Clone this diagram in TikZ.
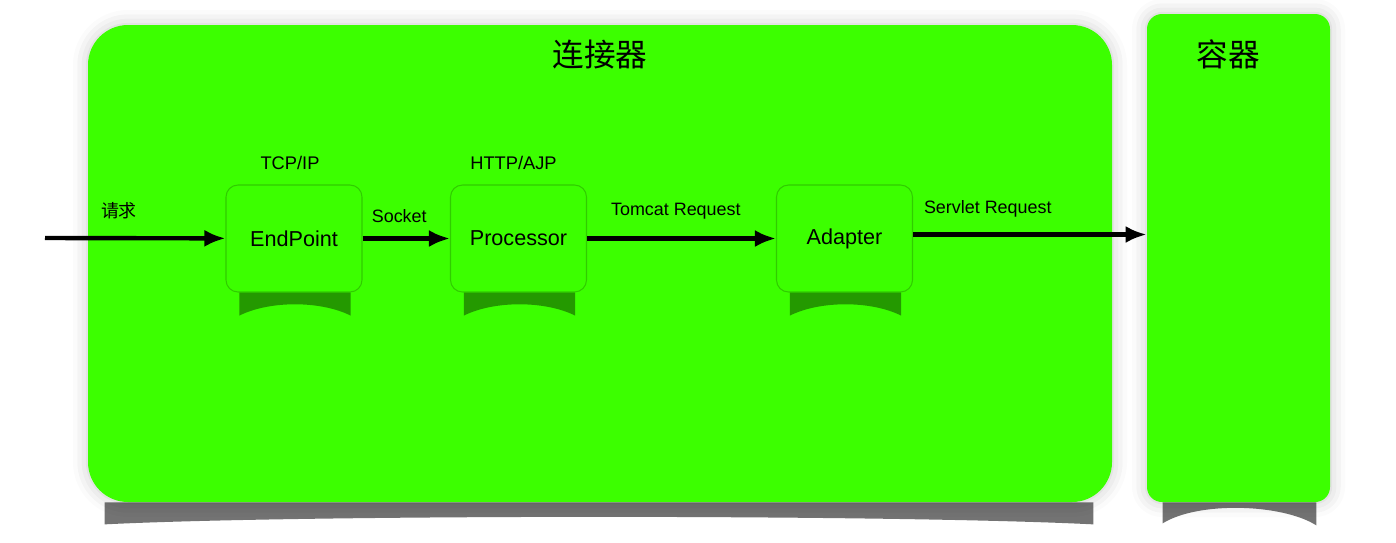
\documentclass[tikz,border=0pt]{standalone}
\usepackage{fontspec}
\setmainfont{Liberation Sans}
\newfontfamily\cjk{Noto Sans CJK SC}
\usetikzlibrary{positioning,arrows.meta,shadows.blur}
\definecolor{tomgreen}{HTML}{3CFF00}
\begin{document}
\begin{tikzpicture}
    [
        halo/.style={blur shadow={shadow xshift=0pt, shadow yshift=0pt, shadow blur radius=0.3cm, shadow opacity=22}},
        part/.style={fill=tomgreen, halo, inner sep=0pt},
        module/.style={fill=tomgreen, inner sep=0pt, draw=black!20!tomgreen, line width=0.6pt,
            rounded corners=0.24cm, minimum width=2.72cm, minimum height=2.14cm, font=\fontsize{12.3}{14}\selectfont},
        title/.style={font=\cjk\fontsize{18}{20}\selectfont, inner sep=0pt},
        proto/.style={font=\fontsize{10.4}{12}\selectfont, inner sep=0pt},
        edgelabel/.style={font=\fontsize{10.2}{12}\selectfont, inner sep=0pt},
        edge/.style={-{Latex[length=4.2mm,width=3.4mm]}, line width=2.5pt},
        curl/.style={fill=black, opacity=0.4},
    ]
    \useasboundingbox (0,0) rectangle (27.92,-10.84);

    % boxes
    \node (connector) at (12.0,-5.27)  [part, rounded corners=0.8cm, minimum width=20.48cm, minimum height=9.54cm] {};
    \node (container) at (24.77,-5.16) [part, rounded corners=0.3cm, minimum width=3.66cm, minimum height=9.76cm] {};

    \node (conntitle) at ([yshift=-0.6cm]connector.north)  [title] {连接器};
    \node (conttitle) at ([xshift=-0.2cm,yshift=-0.82cm]container.north) [title] {容器};

    \node (endpoint)  at (5.88,-4.77)  [module] {EndPoint};
    \node (processor) at (10.37,-4.77) [module] {Processor};
    \node (adapter)   at (16.89,-4.77) [module] {Adapter};

    \node (tcp)  [proto, above=0.28cm of endpoint,  xshift=-0.08cm] {TCP/IP};
    \node (http) [proto, above=0.28cm of processor, xshift=-0.1cm]  {HTTP/AJP};

    % shadows
    \fill[black, opacity=0.55]
    ([xshift=0.34cm]connector.south west) -- ([xshift=-0.38cm]connector.south east) -- ++(0,-0.44)
    .. controls +(-4,0.2) and +(4,0.2) .. ([xshift=0.34cm,yshift=-0.44cm]connector.south west) -- cycle;
    \fill[black, opacity=0.55]
    ([xshift=0.32cm]container.south west) -- ([xshift=-0.28cm]container.south east) -- ++(0,-0.46)
    .. controls +(-0.7,0.44) and +(0.7,0.44) .. ([xshift=0.32cm,yshift=-0.42cm]container.south west) -- cycle;
    \foreach \m in {endpoint,processor,adapter}
    \fill[curl]
    ([xshift=0.28cm]\m.south west) -- ([xshift=-0.24cm]\m.south east) -- ++(0,-0.46)
    .. controls +(-0.6,0.3) and +(0.6,0.3) .. ([xshift=0.28cm,yshift=-0.46cm]\m.south west) -- cycle;

    % flow
    \coordinate (req) at (0.9,-4.76);

    \draw[edge] (req) -- (endpoint)
        node [edgelabel, pos=0.41, above=0.34cm, font=\cjk\fontsize{10.2}{12}\selectfont] {请求};
    \draw[edge] (endpoint) -- (processor)
        node [edgelabel, pos=0.42, above=0.27cm] {Socket};
    \draw[edge] (processor) -- (adapter)
        node [edgelabel, pos=0.47, above=0.34cm] {Tomcat Request};
    \draw[edge] ([yshift=0.08cm]adapter.east) -- ([yshift=0.08cm]adapter.east -| container.west)
        node [edgelabel, pos=0.32, above=0.3cm] {Servlet Request};

\end{tikzpicture}
\end{document}
